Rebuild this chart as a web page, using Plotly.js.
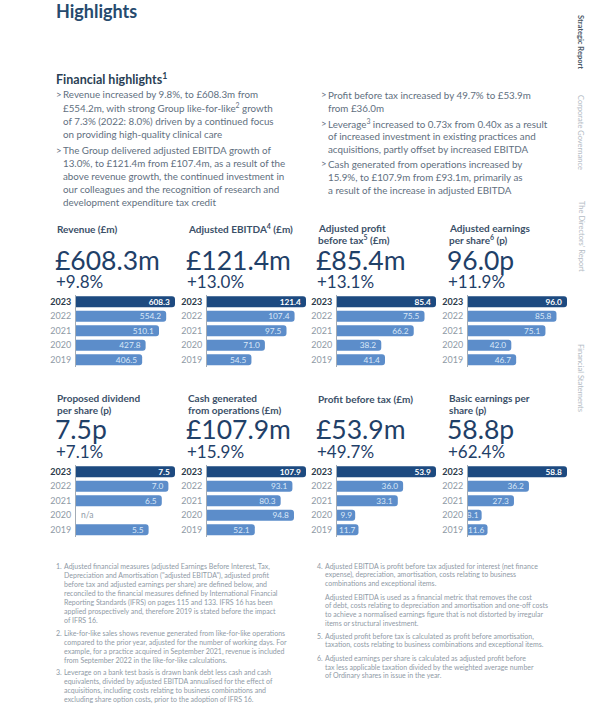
<!DOCTYPE html>
<html><head><meta charset="utf-8">
<script src="https://cdn.plot.ly/plotly-3.0.1.min.js"></script>
<style>html,body{margin:0;padding:0;background:#fff}#chart{width:600px;height:714px}</style>
</head><body><div id="chart"></div>
<script>
// ---- data ----
const years = ['2023', '2022', '2021', '2020', '2019'];
const revenue = [608.3, 554.2, 510.1, 427.8, 406.5];
const adjEbitda = [121.4, 107.4, 97.5, 71.0, 54.5];
const adjPbt = [85.4, 75.5, 66.2, 38.2, 41.4];
const adjEps = [96.0, 85.8, 75.1, 42.0, 46.7];
const dividend = [7.5, 7.0, 6.5, null, 5.5];
const cashOps = [107.9, 93.1, 80.3, 94.8, 52.1];
const pbt = [53.9, 36.0, 33.1, 9.9, 11.7];
const basicEps = [58.8, 36.2, 27.3, 8.1, 11.6];

const panelTitles = [
  ['Revenue (£m)'],
  ['Adjusted EBITDA<sup>4</sup> (£m)'],
  ['Adjusted profit', 'before tax<sup>5</sup> (£m)'],
  ['Adjusted earnings', 'per share<sup>6</sup> (p)'],
  ['Proposed dividend', 'per share (p)'],
  ['Cash generated', 'from operations (£m)'],
  ['Profit before tax (£m)'],
  ['Basic earnings per', 'share (p)']
];
const headlineValues = ['£608.3m', '£121.4m', '£85.4m', '96.0p', '7.5p', '£107.9m', '£53.9m', '58.8p'];
const headlineChanges = ['+9.8%', '+13.0%', '+13.1%', '+11.9%', '+7.1%', '+15.9%', '+49.7%', '+62.4%'];
const series = [revenue, adjEbitda, adjPbt, adjEps, dividend, cashOps, pbt, basicEps];

const bulletsLeft = [
  ['Revenue increased by 9.8%, to £608.3m from', '£554.2m, with strong Group like-for-like<sup>2</sup> growth', 'of 7.3% (2022: 8.0%) driven by a continued focus', 'on providing high-quality clinical care'],
  ['The Group delivered adjusted EBITDA growth of', '13.0%, to £121.4m from £107.4m, as a result of the', 'above revenue growth, the continued investment in', 'our colleagues and the recognition of research and', 'development expenditure tax credit']
];
const bulletsRight = [
  ['Profit before tax increased by 49.7% to £53.9m', 'from £36.0m'],
  ['Leverage<sup>3</sup> increased to 0.73x from 0.40x as a result', 'of increased investment in existing practices and', 'acquisitions, partly offset by increased EBITDA'],
  ['Cash generated from operations increased by', '15.9%, to £107.9m from £93.1m, primarily as', 'a result of the increase in adjusted EBITDA']
];
const footLeft = [
  ['1.', ['Adjusted financial measures (adjusted Earnings Before Interest, Tax,', 'Depreciation and Amortisation ("adjusted EBITDA"), adjusted profit', 'before tax and adjusted earnings per share) are defined below, and', 'reconciled to the financial measures defined by International Financial', 'Reporting Standards (IFRS) on pages 115 and 133. IFRS 16 has been', 'applied prospectively and, therefore 2019 is stated before the impact', 'of IFRS 16.']],
  ['2.', ['Like-for-like sales shows revenue generated from like-for-like operations', 'compared to the prior year, adjusted for the number of working days. For', 'example, for a practice acquired in September 2021, revenue is included', 'from September 2022 in the like-for-like calculations.']],
  ['3.', ['Leverage on a bank test basis is drawn bank debt less cash and cash', 'equivalents, divided by adjusted EBITDA annualised for the effect of', 'acquisitions, including costs relating to business combinations and', 'excluding share option costs, prior to the adoption of IFRS 16.']]
];
const footRight = [
  ['4.', ['Adjusted EBITDA is profit before tax adjusted for interest (net finance', 'expense), depreciation, amortisation, costs relating to business', 'combinations and exceptional items.']],
  ['', ['Adjusted EBITDA is used as a financial metric that removes the cost', 'of debt, costs relating to depreciation and amortisation and one-off costs', 'to achieve a normalised earnings figure that is not distorted by irregular', 'items or structural investment.']],
  ['5.', ['Adjusted profit before tax is calculated as profit before amortisation,', 'taxation, costs relating to business combinations and exceptional items.']],
  ['6.', ['Adjusted earnings per share is calculated as adjusted profit before', 'tax less applicable taxation divided by the weighted average number', 'of Ordinary shares in issue in the year.']]
];
const sideTabs = ['Strategic Report', 'Corporate Governance', 'The Directors\' Report', 'Financial Statements'];

// ---- layout helpers ----
const W = 600, H = 714;
const px = x => x / W, py = y => 1 - y / H;
const FONT = 'Lato, "Open Sans", sans-serif';
const NAVY = '#1f4068';
const TEXT = '#5f6f80';
const LIGHT = '#8f9aa6';
const DARKBAR = '#1d4a80';
const BAR = '#5c8dca';

const annotations = [];
function txt(x, y, text, size, color, opts) {
  annotations.push(Object.assign({
    xref: 'paper', yref: 'paper', x: px(x), y: py(y), xanchor: 'left', yanchor: 'middle',
    text: text, showarrow: false, align: 'left',
    font: {family: FONT, size: size, color: color}
  }, opts || {}));
}

// header
txt(54, 11, '<b>Highlights</b>', 18, '#264a6e');
txt(54, 78, '<b>Financial highlights<sup>1</sup></b>', 12.5, '#2a3f55');

// bullets
function bulletBlock(xB, xT, starts, blocks, step) {
  blocks.forEach((lines, b) => {
    txt(xB, starts[b], '>', 9.5, TEXT);
    lines.forEach((l, i) => txt(xT, starts[b] + i * step, l, 9.8, TEXT));
  });
}
bulletBlock(54, 61, [94.5, 150], bulletsLeft, 13);
bulletBlock(319, 326, [95, 123, 164], bulletsRight, 13);

// panels
const colX = [55, 186, 316, 447];
const axisX = [76, 207, 337, 468];
const rowTitleY = [229, 399];
const rowValueY = [260, 429];
const rowChangeY = [282, 451];
const rowBarTop = [294.5, 464.5];
const ROWH = 14.5;

const data = [];
const layout = {
  width: W, height: H, margin: {l: 0, r: 0, t: 0, b: 0},
  paper_bgcolor: '#ffffff', plot_bgcolor: 'rgba(0,0,0,0)',
  showlegend: false, bargap: 0.24, hovermode: false,
  font: {family: FONT}
};

series.forEach((vals, p) => {
  const r = Math.floor(p / 4), c = p % 4;
  const sfx = p === 0 ? '' : String(p + 1);
  const maxV = vals[0];
  const top = rowBarTop[r], bot = top + ROWH * years.length;
  const idx = years.map((y, i) => i).filter(i => vals[i] != null);
  data.push({
    type: 'bar', orientation: 'h', x: idx.map(i => vals[i]), y: idx.map(i => years[i]),
    xaxis: 'x' + sfx, yaxis: 'y' + sfx,
    marker: {color: idx.map(i => i === 0 ? DARKBAR : BAR), cornerradius: 3, line: {width: 0}},
    text: idx.map(i => (i === 0 ? '<b>' + vals[i].toFixed(1) + '</b>' : vals[i].toFixed(1)) + (vals[i] / maxV > 0.3 ? '\u00a0' : '')),
    textposition: 'inside', insidetextanchor: 'end', constraintext: 'none', textangle: 0,
    textfont: {family: FONT, size: 8.3, color: idx.map(i => i === 0 ? '#ffffff' : '#dbe8f8')},
    cliponaxis: false, hoverinfo: 'skip'
  });
  layout['xaxis' + sfx] = {
    domain: [px(axisX[c]), px(axisX[c] + 99)], range: [0, maxV],
    visible: false, fixedrange: true, anchor: 'y' + sfx
  };
  layout['yaxis' + sfx] = {
    domain: [py(bot), py(top)], type: 'category',
    categoryorder: 'array', categoryarray: years, range: [years.length - 0.5, -0.5],
    showline: true, linecolor: '#a3acb6', linewidth: 1, showgrid: false, zeroline: false,
    ticks: '', tickvals: years,
    ticktext: years.map((y, i) => i === 0 ? '<b><span style="color:#2b3a4a">' + y + '</span></b>' : y),
    tickfont: {family: FONT, size: 9, color: LIGHT}, ticklabelstandoff: 2,
    fixedrange: true, anchor: 'x' + sfx
  };
  // n/a label for missing values
  vals.forEach((v, i) => {
    if (v == null) txt(axisX[c] + 3, top + (i + 0.5) * ROWH, 'n/a', 8.5, LIGHT);
  });
  // titles
  panelTitles[p].forEach((line, k) => txt(colX[c], rowTitleY[r] + k * 11.5 - (panelTitles[p].length > 1 ? 1 : 0), '<b>' + line + '</b>', 10, '#3b5068'));
  txt(colX[c] - 2, rowValueY[r], headlineValues[p], 26.5, NAVY);
  txt(colX[c] - 1, rowChangeY[r], headlineChanges[p], 17, NAVY);
});

// footnotes
function footBlock(xN, xT, starts, blocks, step) {
  blocks.forEach((b, k) => {
    if (b[0]) txt(xN, starts[k], b[0], 7, LIGHT);
    b[1].forEach((l, i) => txt(xT, starts[k] + i * step, l, 7, LIGHT));
  });
}
footBlock(54, 62, [566, 633, 672], footLeft, 9);
footBlock(315, 323, [566, 597, 636, 658], footRight, 8.7);

// side tabs
const sideY = [42, 132, 236, 378];
sideTabs.forEach((t, i) => {
  annotations.push({xref: 'paper', yref: 'paper', x: px(581), y: py(sideY[i]), xanchor: 'center', yanchor: 'middle',
    text: i === 0 ? '<b>' + t + '</b>' : t, textangle: 90, showarrow: false,
    font: {family: FONT, size: 7.5, color: i === 0 ? '#4b5967' : '#b3bbc4'}});
});

layout.annotations = annotations;
Plotly.newPlot('chart', data, layout, {displayModeBar: false, staticPlot: true});
</script></body></html>
